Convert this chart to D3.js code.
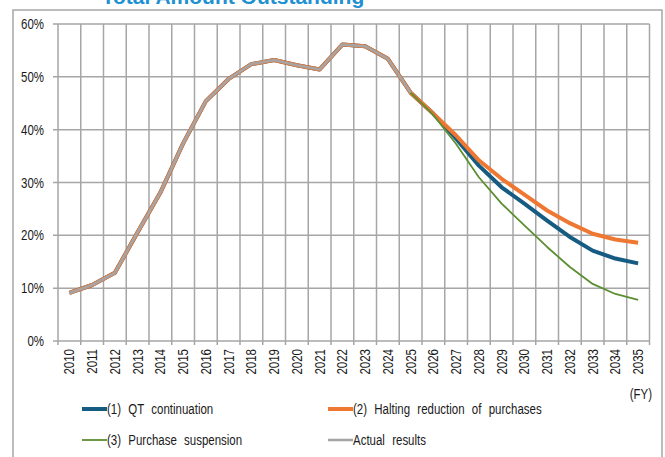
<!DOCTYPE html>
<html>
<head>
<meta charset="utf-8">
<script src="https://cdn.jsdelivr.net/npm/d3@7"></script>
<style>
  body { margin: 0; background: #fff; }
  svg { display: block; }
  text { font-family: "Liberation Sans", Arial, sans-serif; fill: #1a1a1a; }
</style>
</head>
<body>
<svg id="drawing_region"></svg>
<script>
// fiscal years on the x axis
const years = ["2010","2011","2012","2013","2014","2015","2016","2017","2018","2019","2020","2021","2022",
               "2023","2024","2025","2026","2027","2028","2029","2030","2031","2032","2033","2034","2035"];

// actual results, FY2010-FY2025 (%)
const actual = [9.1, 10.6, 12.9, 20.6, 28.1, 37.4, 45.4, 49.6, 52.4, 53.2, 52.2, 51.4, 56.1, 55.8, 53.4, 47.0];

// projections, FY2025-FY2035 (%)
const qtProj      = [47.0, 43.0, 38.3, 33.2, 29.1, 26.0, 22.8, 19.7, 17.1, 15.6, 14.7];
const haltProj    = [47.0, 43.0, 38.9, 34.2, 30.7, 27.7, 24.7, 22.3, 20.3, 19.2, 18.6];
const suspendProj = [47.0, 42.8, 37.3, 31.0, 26.0, 21.9, 17.8, 14.0, 10.8, 8.9, 7.8];

const yTicks = [0, 10, 20, 30, 40, 50, 60];

const series = [
    { name: "(1) QT continuation", color: "#165B82", width: 4, start: 0,
      values: actual.slice(0, -1).concat(qtProj) },
    { name: "(2) Halting reduction of purchases", color: "#EE7732", width: 4, start: 0,
      values: actual.slice(0, -1).concat(haltProj) },
    { name: "(3) Purchase suspension", color: "#5B8F32", width: 1.8, start: 15,
      values: suspendProj },
    { name: "Actual results", color: "#A5A5A5", width: 2.6, start: 0,
      values: actual }
];

const config = {
    width: 665,
    height: 457,
    plot: { left: 58, right: 649.5, top: 24, bottom: 341 },
    narrow: 0.82
};

const svg = d3.select("#drawing_region")
    .attr("width", config.width)
    .attr("height", config.height);

// outer frame
svg.append("rect")
    .attr("x", 13).attr("y", 10)
    .attr("width", 649).attr("height", 470)
    .attr("fill", "none")
    .attr("stroke", "#A6A6A6")
    .attr("stroke-width", 1.5);

// title (clipped at the top edge like the source)
svg.append("text")
    .attr("x", 233).attr("y", 3.5)
    .attr("text-anchor", "middle")
    .attr("font-size", 21)
    .attr("font-weight", "bold")
    .style("fill", "#2090D2")
    .text("Total Amount Outstanding");

const xscale = d3.scaleBand()
    .domain(years)
    .range([config.plot.left, config.plot.right]);

const yscale = d3.scaleLinear()
    .domain([0, 60])
    .range([config.plot.bottom, config.plot.top]);

const grid = svg.append("g")
    .attr("stroke", "#A6A6A6")
    .attr("stroke-width", 1.5);

// horizontal gridlines with little ticks on the left
grid.selectAll("line.h")
    .data(yTicks)
    .join("line")
    .attr("class", "h")
    .attr("x1", config.plot.left - 5)
    .attr("x2", config.plot.right)
    .attr("y1", d => yscale(d))
    .attr("y2", d => yscale(d));

// vertical gridlines at category boundaries, ticking below the axis
const bounds = years.map(d => xscale(d)).concat([config.plot.right]);
grid.selectAll("line.v")
    .data(bounds)
    .join("line")
    .attr("class", "v")
    .attr("x1", d => d).attr("x2", d => d)
    .attr("y1", config.plot.top)
    .attr("y2", config.plot.bottom + 4);

// y labels
svg.append("g").selectAll("text")
    .data(yTicks)
    .join("text")
    .attr("text-anchor", "end")
    .attr("font-size", 14)
    .attr("transform", d => `translate(44, ${yscale(d) + 5}) scale(${config.narrow},1)`)
    .text(d => d + "%");

// x labels, rotated
svg.append("g").selectAll("text")
    .data(years)
    .join("text")
    .attr("text-anchor", "end")
    .attr("font-size", 14)
    .attr("transform", d => `translate(${xscale(d) + xscale.bandwidth() / 2 + 5}, 349) rotate(-90) scale(${config.narrow},1)`)
    .text(d => d);

svg.append("text")
    .attr("text-anchor", "end")
    .attr("font-size", 14)
    .attr("transform", `translate(652, 399) scale(${config.narrow},1)`)
    .text("(FY)");

// lines
const line = d3.line()
    .x((d, i) => xscale(d.year) + xscale.bandwidth() / 2)
    .y(d => yscale(d.value));

series.forEach(s => {
    const pts = s.values.map((v, i) => ({ year: years[s.start + i], value: v }));
    svg.append("path")
        .datum(pts)
        .attr("fill", "none")
        .attr("stroke", s.color)
        .attr("stroke-width", s.width)
        .attr("stroke-linejoin", "round")
        .attr("d", line);
});

// legend
const legendPos = [
    { x: 82, y: 409 }, { x: 328, y: 409 },
    { x: 82, y: 440 }, { x: 328, y: 440 }
];
const legend = svg.append("g").selectAll("g")
    .data(series)
    .join("g")
    .attr("transform", (d, i) => `translate(${legendPos[i].x}, ${legendPos[i].y})`);

legend.append("line")
    .attr("x1", 0).attr("x2", 25)
    .attr("stroke", d => d.color)
    .attr("stroke-width", d => d.width);

legend.append("text")
    .attr("font-size", 14)
    .attr("word-spacing", 5)
    .attr("transform", `translate(25, 5) scale(${config.narrow},1)`)
    .text(d => d.name);
</script>
</body>
</html>
